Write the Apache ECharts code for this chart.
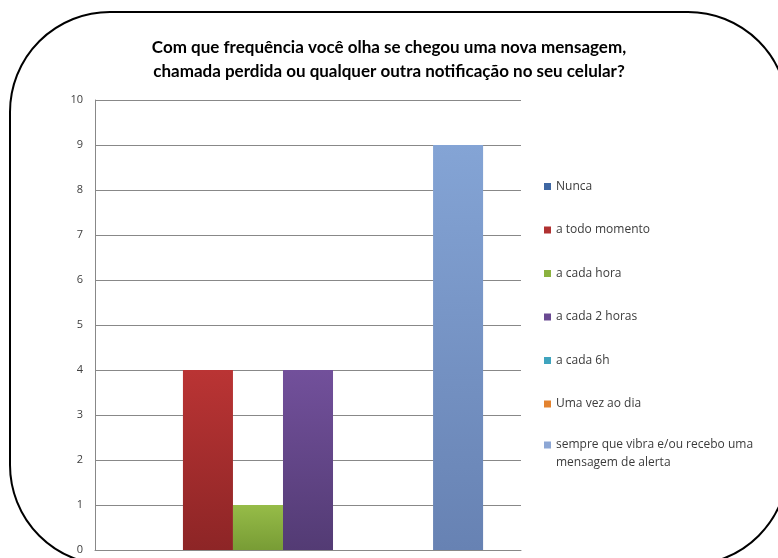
<!DOCTYPE html>
<html>
<head>
<meta charset="utf-8">
<script src="https://cdn.jsdelivr.net/npm/echarts@6/dist/echarts.min.js"></script>
<style>html,body{margin:0;padding:0;background:#fff;}#c{width:778px;height:558px;}</style>
</head>
<body>
<div id="c"></div>
<script>
// ---- data ----
const titleLines = ['Com que frequência você olha se chegou uma nova mensagem,', 'chamada perdida ou qualquer outra notificação no seu celular?'];
const categories = [''];
const seriesNames = ['Nunca', 'a todo momento', 'a cada hora', 'a cada 2 horas', 'a cada 6h', 'Uma vez ao dia', 'sempre que vibra e/ou recebo uma mensagem de alerta'];
const seriesValues = [0, 4, 1, 4, 0, 0, 9];
const yTicks = [0, 1, 2, 3, 4, 5, 6, 7, 8, 9, 10];

// ---- styles ----
const topColors = ['#5585C4', '#BA3434', '#96BC48', '#72509B', '#4FB3CD', '#F89A4C', '#84A4D5'];
const bottomColors = ['#3E6398', '#8D2526', '#789C35', '#533B74', '#35889E', '#C9752C', '#6782B3'];
const iconColors = ['#3F67A3', '#B03131', '#8BB23F', '#6A4A92', '#3FA4BE', '#E3832F', '#8DA7D5'];

const chart = echarts.init(document.getElementById('c'), null, {renderer: 'canvas'});
const series = seriesNames.map((n, i) => ({
  name: n,
  type: 'bar',
  data: [seriesValues[i]],
  barGap: '0%',
  barCategoryGap: '17.8%',
  itemStyle: {
    color: new echarts.graphic.LinearGradient(0, 0, 0, 1, [
      {offset: 0, color: topColors[i]}, {offset: 1, color: bottomColors[i]}
    ])
  },
  emphasis: {disabled: true}
}));

const legendText = {fontFamily: 'Open Sans', fontSize: 12, color: '#3b3b3b', lineHeight: 14};
chart.setOption({
  animation: false,
  backgroundColor: '#fff',
  title: {
    text: titleLines.join('\n'),
    left: 'center',
    top: 36,
    padding: 0,
    textStyle: {fontFamily: 'Lato', fontWeight: 'bold', fontSize: 17, lineHeight: 24, color: '#000'}
  },
  legend: [{
    orient: 'vertical',
    left: 544,
    top: 179.5,
    padding: 0,
    itemWidth: 7,
    itemHeight: 7,
    itemGap: 29.5,
    icon: 'rect',
    selectedMode: false,
    textStyle: legendText,
    data: seriesNames.slice(0, 6).map((n, i) => ({name: n, itemStyle: {color: iconColors[i]}}))
  }, {
    orient: 'vertical',
    left: 544,
    top: 418,
    padding: 0,
    itemWidth: 7,
    itemHeight: 7,
    icon: 'rect',
    selectedMode: false,
    formatter: function (n) { return ' \nsempre que vibra e/ou recebo uma\nmensagem de alerta'; },
    textStyle: Object.assign({}, legendText, {lineHeight: 18}),
    data: [{name: seriesNames[6], itemStyle: {color: iconColors[6]}}]
  }],
  grid: {left: 95, right: 257, top: 100, bottom: 8, containLabel: false},
  xAxis: {
    type: 'category',
    data: categories,
    axisLine: {lineStyle: {color: '#888', width: 1}},
    axisTick: {show: false},
    axisLabel: {show: false}
  },
  yAxis: {
    type: 'value',
    min: yTicks[0],
    max: yTicks[yTicks.length - 1],
    interval: 1,
    axisLine: {show: true, lineStyle: {color: '#888', width: 1}},
    axisTick: {show: false},
    axisLabel: {margin: 12, fontFamily: 'Open Sans', fontSize: 11, color: '#404040'},
    splitLine: {lineStyle: {color: '#888', width: 1}}
  },
  series: series,
  graphic: [{
    type: 'rect',
    shape: {x: 10, y: 12, width: 778, height: 553, r: 100},
    style: {fill: 'none', stroke: '#000', lineWidth: 2},
    silent: true,
    z: 100
  }]
});
</script>
</body>
</html>
